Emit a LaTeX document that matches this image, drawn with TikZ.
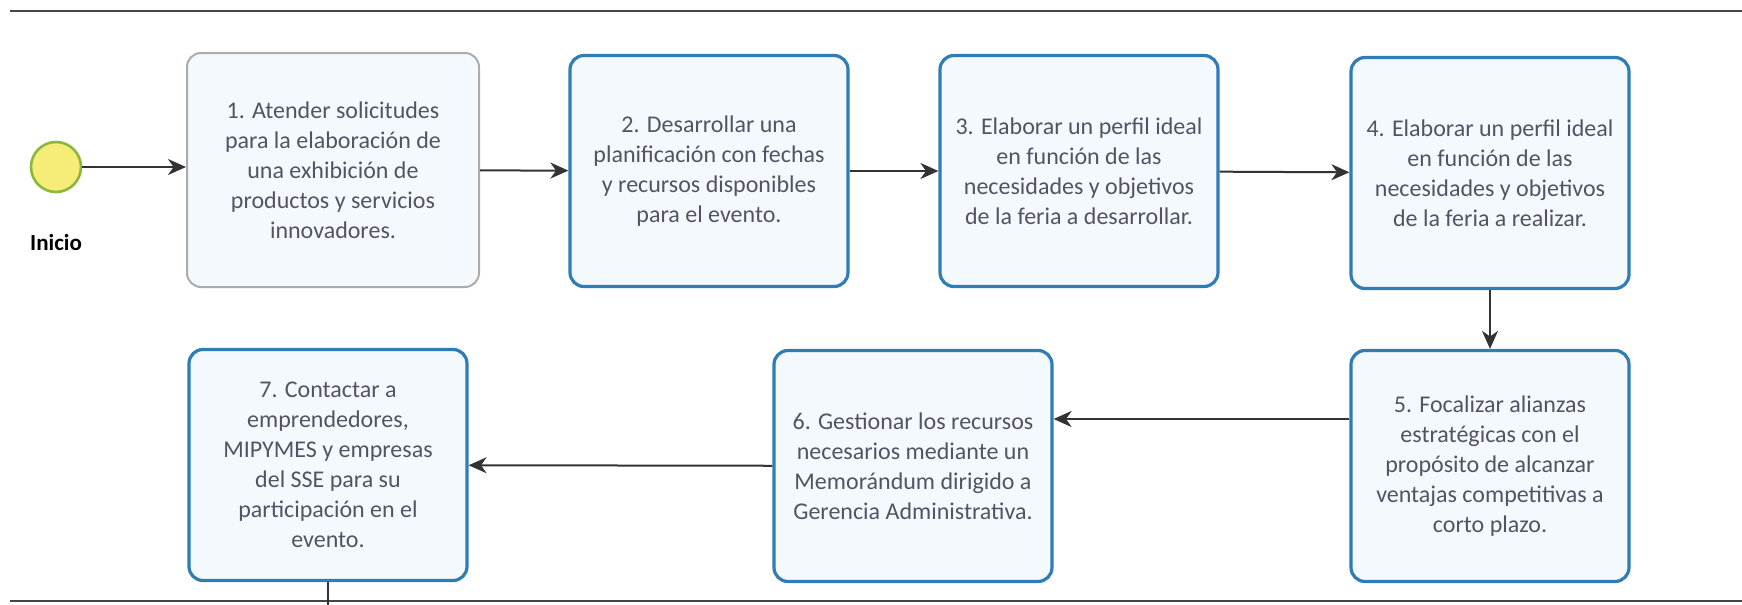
\documentclass[tikz,border=0pt]{standalone}
\usepackage{fontspec}
\setmainfont{Carlito}
\usetikzlibrary{shapes,arrows.meta,positioning}

\definecolor{boxblue}{RGB}{46,125,182}
\definecolor{boxfill}{RGB}{244,249,253}
\definecolor{boxgray}{RGB}{172,172,172}
\definecolor{txtgray}{RGB}{82,84,100}
\definecolor{startyellow}{RGB}{246,236,120}
\definecolor{startgreen}{RGB}{138,184,58}
\definecolor{laneline}{RGB}{70,70,70}

\tikzset{
  task/.style={rectangle, rounded corners=7pt, draw=boxblue, line width=1.6pt, fill=boxfill,
    minimum width=139pt, minimum height=115.5pt, align=center, text=txtgray,
    font=\fontsize{12}{15}\selectfont},
  firsttask/.style={task, draw=boxgray, line width=1pt, minimum width=146pt, minimum height=117pt},
  startev/.style={circle, draw=startgreen, line width=1.3pt, fill=startyellow, minimum size=25pt, inner sep=0pt},
  flow/.style={-{Stealth[length=9pt,width=8pt,inset=2.8pt]}, line width=1pt, draw=black!80},
}

\begin{document}
\begin{tikzpicture}[x=0.5pt, y=-0.5pt]
        \useasboundingbox (0,0) rectangle (1742,605);

        % Lane lines
        \draw[laneline, line width=1pt] (10,11) -- (1742,11);
        \draw[laneline, line width=1pt] (10,601) -- (1742,601);

        % Start event
        \node[startev] (start) at (56,167) {};
        \node[font=\bfseries\fontsize{11.5}{13}\selectfont, below=17pt of start] (startlbl) {Inicio};

        % Upper row
        \node[firsttask] (t1) at (333,170) {1. Atender solicitudes\\para la elaboración de\\una exhibición de\\productos y servicios\\innovadores.};
        \node[task] (t2) at (709,171) {2. Desarrollar una\\planificación con fechas\\y recursos disponibles\\para el evento.};
        \node[task] (t3) at (1079,171) {3. Elaborar un perfil ideal\\en función de las\\necesidades y objetivos\\de la feria a desarrollar.};
        \node[task] (t4) at (1490,173) {4. Elaborar un perfil ideal\\en función de las\\necesidades y objetivos\\de la feria a realizar.};

        % Lower row
        \node[task] (t5) at (1490,466) {5. Focalizar alianzas\\estratégicas con el\\propósito de alcanzar\\ventajas competitivas a\\corto plazo.};
        \node[task] (t6) at (913,466) {6. Gestionar los recursos\\necesarios mediante un\\Memorándum dirigido a\\Gerencia Administrativa.};
        \node[task] (t7) at (328,465) {7. Contactar a\\emprendedores,\\MIPYMES y empresas\\del SSE para su\\participación en el\\evento.};
        \coordinate (out7) at (328,605);

        % Sequence flows
        \draw[flow] (start) -- (start -| t1.west);
        \draw[flow] (t1) -- (t2);
        \draw[flow] (t2) -- (t3);
        \draw[flow] (t3) -- (t4);
        \draw[flow] (t4) -- (t5);
        \draw[flow] ([yshift=23.5pt]t5.west) -- ([yshift=23.5pt]t6.east);
        \draw[flow] (t6) -- (t7);
        \draw[line width=1pt, draw=black!80] (t7) -- (out7);
    \end{tikzpicture}
\end{document}
